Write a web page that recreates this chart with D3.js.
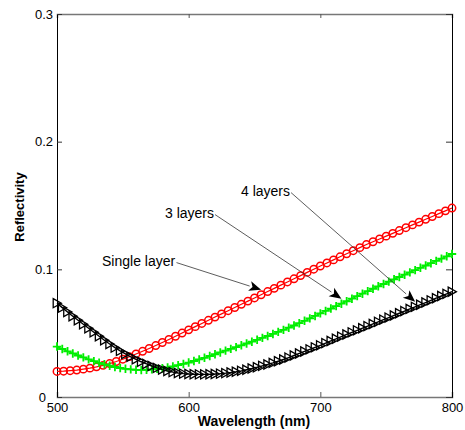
<!DOCTYPE html>
<html>
<head>
<meta charset="utf-8">
<script src="https://cdn.jsdelivr.net/npm/d3@7"></script>
<style>
  body { margin: 0; background: #fff; }
  text { font-family: "Liberation Sans", Arial, sans-serif; }
</style>
</head>
<body>
<div id="chart"></div>
<script>
// wavelength grids (nm)
const wlSingle = d3.range(500, 801, 5)
const wlMulti = d3.range(500, 801, 4)

// Single layer (red circles)
const singleLayer = [
  0.0200, 0.0202, 0.0206, 0.0211, 0.0218, 0.0226, 0.0236, 0.0248, 0.0262, 0.0278,
  0.0296, 0.0316, 0.0337, 0.0358, 0.0380, 0.0403, 0.0427, 0.0451, 0.0476, 0.0501,
  0.0526, 0.0551, 0.0576, 0.0601, 0.0626, 0.0651, 0.0676, 0.0701, 0.0726, 0.0751,
  0.0776, 0.0801, 0.0826, 0.0851, 0.0876, 0.0901, 0.0926, 0.0951, 0.0976, 0.1001,
  0.1026, 0.1050, 0.1074, 0.1098, 0.1122, 0.1146, 0.1170, 0.1194, 0.1216, 0.1238,
  0.1260, 0.1282, 0.1304, 0.1326, 0.1348, 0.1370, 0.1392, 0.1414, 0.1436, 0.1458,
  0.1480
]

// 3 layers (green plus)
const threeLayers = [
  0.0395, 0.0376, 0.0358, 0.0341, 0.0325, 0.0310, 0.0295, 0.0281, 0.0268, 0.0256,
  0.0245, 0.0235, 0.0227, 0.0221, 0.0216, 0.0213, 0.0212, 0.0213, 0.0216, 0.0220,
  0.0225, 0.0232, 0.0240, 0.0249, 0.0259, 0.0270, 0.0282, 0.0294, 0.0307, 0.0321,
  0.0335, 0.0349, 0.0363, 0.0377, 0.0391, 0.0405, 0.0419, 0.0433, 0.0448, 0.0463,
  0.0478, 0.0494, 0.0510, 0.0526, 0.0543, 0.0560, 0.0578, 0.0597, 0.0616, 0.0635,
  0.0655, 0.0674, 0.0693, 0.0712, 0.0731, 0.0750, 0.0770, 0.0790, 0.0809, 0.0829,
  0.0848, 0.0867, 0.0885, 0.0904, 0.0922, 0.0940, 0.0958, 0.0976, 0.0994, 0.1012,
  0.1030, 0.1048, 0.1066, 0.1084, 0.1102, 0.1120
]

// 4 layers (black triangles)
const fourLayers = [
  0.0735, 0.0700, 0.0666, 0.0633, 0.0601, 0.0570, 0.0538, 0.0507, 0.0476, 0.0445,
  0.0415, 0.0387, 0.0361, 0.0337, 0.0315, 0.0295, 0.0276, 0.0259, 0.0243, 0.0228,
  0.0215, 0.0204, 0.0195, 0.0188, 0.0183, 0.0180, 0.0178, 0.0177, 0.0177, 0.0178,
  0.0180, 0.0183, 0.0187, 0.0192, 0.0198, 0.0205, 0.0214, 0.0223, 0.0233, 0.0244,
  0.0255, 0.0267, 0.0280, 0.0294, 0.0309, 0.0325, 0.0341, 0.0357, 0.0373, 0.0389,
  0.0405, 0.0422, 0.0439, 0.0456, 0.0473, 0.0490, 0.0506, 0.0522, 0.0539, 0.0555,
  0.0572, 0.0589, 0.0606, 0.0622, 0.0639, 0.0656, 0.0673, 0.0690, 0.0706, 0.0723,
  0.0740, 0.0757, 0.0774, 0.0791, 0.0808, 0.0825
]

const xTicks = [500, 600, 700, 800]
const yTicks = [0, 0.1, 0.2, 0.3]

// annotation labels: text, text anchor point, data point the arrow hits
const notes = [
  { label: 'Single layer', tx: 102, ty: 266, wl: 655, series: 'single' },
  { label: '3 layers', tx: 165, ty: 218, wl: 716, series: 'three' },
  { label: '4 layers', tx: 241, ty: 196, wl: 772, series: 'four' }
]

const width = 465, height = 430
const mLeft = 57, mRight = 452, mTop = 14, mBottom = 397

const x = d3.scaleLinear().domain([500, 800]).range([mLeft, mRight])
const y = d3.scaleLinear().domain([0, 0.3]).range([mBottom, mTop])

const svg = d3.select('#chart').append('svg')
  .attr('width', width).attr('height', height)

// axes
const fmtY = d => d === 0 ? '0' : d3.format('.1f')(d)
svg.append('g')
  .attr('transform', 'translate(0,' + mBottom + ')')
  .call(d3.axisBottom(x).tickValues(xTicks).tickSize(-5).tickPadding(6))
  .call(g => g.select('.domain').attr('stroke', '#777').attr('stroke-width', 1.5))
  .call(g => g.selectAll('.tick line').attr('stroke', '#555'))
  .call(g => g.selectAll('.tick text').attr('font-size', 13).attr('fill', '#000')
    .attr('font-family', '"Liberation Sans", Arial, sans-serif'))
svg.append('g')
  .attr('transform', 'translate(0,' + mTop + ')')
  .call(d3.axisTop(x).tickValues(xTicks).tickSize(-4).tickFormat(''))
  .call(g => g.select('.domain').attr('stroke', '#777').attr('stroke-width', 1.5))
  .call(g => g.selectAll('.tick line').attr('stroke', '#555'))
svg.append('g')
  .attr('transform', 'translate(' + mLeft + ',0)')
  .call(d3.axisLeft(y).tickValues(yTicks).tickSize(-5).tickPadding(4).tickFormat(fmtY))
  .call(g => g.select('.domain').attr('stroke', '#000'))
  .call(g => g.selectAll('.tick line').attr('stroke', '#333'))
  .call(g => g.selectAll('.tick text').attr('font-size', 13).attr('fill', '#000')
    .attr('font-family', '"Liberation Sans", Arial, sans-serif')
    .attr('dx', d => d === 0 ? -7 : 0))
svg.append('g')
  .attr('transform', 'translate(' + mRight + ',0)')
  .call(d3.axisRight(y).tickValues(yTicks).tickSize(-6).tickFormat(''))
  .call(g => g.select('.domain').attr('stroke', '#000'))
  .call(g => g.selectAll('.tick line').attr('stroke', '#333'))

// axis titles
svg.append('text')
  .attr('x', 254).attr('y', 426)
  .attr('text-anchor', 'middle')
  .attr('font-size', 14).attr('font-weight', 'bold')
  .text('Wavelength (nm)')
svg.append('text')
  .attr('transform', 'translate(24,207) rotate(-90)')
  .attr('text-anchor', 'middle')
  .attr('font-size', 13).attr('font-weight', 'bold')
  .text('Reflectivity')

const line = d3.line().x(d => x(d[0])).y(d => y(d[1]))

const series = {
  single: { wl: wlSingle, v: singleLayer, color: '#ff0000' },
  three: { wl: wlMulti, v: threeLayers, color: '#00ee00' },
  four: { wl: wlMulti, v: fourLayers, color: '#000000' }
}

function pts(s) { return s.wl.map((w, i) => [w, s.v[i]]) }

// red circles
var sPts = pts(series.single)
svg.append('path').attr('d', line(sPts))
  .attr('fill', 'none').attr('stroke', series.single.color).attr('stroke-width', 1.2)
svg.append('g').selectAll('circle').data(sPts).enter().append('circle')
  .attr('cx', d => x(d[0])).attr('cy', d => y(d[1])).attr('r', 3.7)
  .attr('fill', 'none').attr('stroke', series.single.color).attr('stroke-width', 1.5)

// green plus
var tPts = pts(series.three)
svg.append('path').attr('d', line(tPts))
  .attr('fill', 'none').attr('stroke', series.three.color).attr('stroke-width', 1.4)
svg.append('g').selectAll('path').data(tPts).enter().append('path')
  .attr('transform', d => 'translate(' + x(d[0]) + ',' + y(d[1]) + ')')
  .attr('d', 'M-4.2,0H4.2M0,-4.2V4.2')
  .attr('stroke', series.three.color).attr('stroke-width', 1.8)

// black right-pointing triangles
var fPts = pts(series.four)
svg.append('path').attr('d', line(fPts))
  .attr('fill', 'none').attr('stroke', series.four.color).attr('stroke-width', 1.4)
svg.append('g').selectAll('path').data(fPts).enter().append('path')
  .attr('transform', d => 'translate(' + x(d[0]) + ',' + y(d[1]) + ')')
  .attr('d', 'M-3.8,-4.6L4.4,0L-3.8,4.6Z')
  .attr('fill', 'none').attr('stroke', series.four.color).attr('stroke-width', 1.3)

// annotations with arrows
notes.forEach(function(n) {
  var s = series[n.series]
  var i = s.wl.indexOf(n.wl)
  var px = x(s.wl[i]), py = y(s.v[i]) - 5
  var t = svg.append('text')
    .attr('x', n.tx).attr('y', n.ty)
    .attr('font-size', 14).attr('fill', '#000')
    .text(n.label)
  var bb = t.node().getBBox()
  var sx = bb.x + bb.width + 1, sy = bb.y + bb.height * 0.6
  var ang = Math.atan2(py - sy, px - sx)
  var hl = 12, hw = 5
  var bx = px - hl * Math.cos(ang), by = py - hl * Math.sin(ang)
  svg.append('line')
    .attr('x1', sx).attr('y1', sy).attr('x2', bx).attr('y2', by)
    .attr('stroke', '#333').attr('stroke-width', 0.8)
  svg.append('path')
    .attr('d', 'M' + px + ',' + py +
      'L' + (bx + hw * Math.sin(ang)) + ',' + (by - hw * Math.cos(ang)) +
      'L' + (bx + 3 * Math.cos(ang)) + ',' + (by + 3 * Math.sin(ang)) +
      'L' + (bx - hw * Math.sin(ang)) + ',' + (by + hw * Math.cos(ang)) + 'Z')
    .attr('fill', '#000')
})
</script>
</body>
</html>
